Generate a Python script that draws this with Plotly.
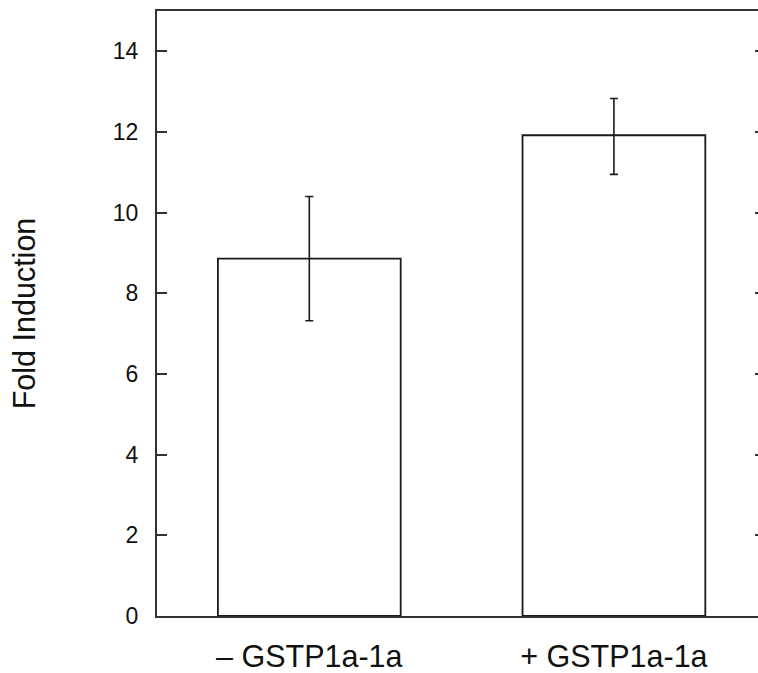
import plotly.graph_objects as go

categories = ["– GSTP1a-1a", "+ GSTP1a-1a"]
fold_induction = [8.86, 11.92]
err_plus = [1.54, 0.91]
err_minus = [1.54, 0.97]
y_ticks = [0, 2, 4, 6, 8, 10, 12, 14]

FONT = "Liberation Sans, Arial, Helvetica, sans-serif"
LINE = "#333333"

fig = go.Figure()
fig.add_trace(go.Bar(
    x=categories, y=fold_induction, width=0.6,
    marker=dict(color="white", line=dict(color="#1a1a1a", width=1.8)),
    error_y=dict(type="data", symmetric=False, array=err_plus, arrayminus=err_minus,
                 color="#1a1a1a", thickness=1.6, width=4),
    showlegend=False, hoverinfo="skip",
))
# invisible trace to carry right-side mirror ticks
fig.add_trace(go.Scatter(x=categories, y=fold_induction, yaxis="y2",
                         mode="markers", marker=dict(opacity=0), showlegend=False,
                         hoverinfo="skip"))

fig.update_layout(
    width=758, height=673,
    margin=dict(l=157, r=0, t=11, b=54),
    paper_bgcolor="white", plot_bgcolor="white",
    font=dict(family=FONT, color="#111111"),
    xaxis=dict(
        type="category", range=[-0.5, 1.473],
        showline=True, linecolor=LINE, linewidth=2, mirror=True,
        ticks="", showgrid=False, zeroline=False,
        tickfont=dict(size=30.5, family=FONT, color="#111111"),
        ticklabelstandoff=12,
    ),
    yaxis=dict(
        range=[0, 15], tickvals=y_ticks,
        showline=True, linecolor=LINE, linewidth=2, mirror=False,
        ticks="inside", ticklen=10, tickwidth=2, tickcolor=LINE,
        showgrid=False, zeroline=False,
        tickfont=dict(size=23, family=FONT, color="#111111"),
        ticklabelstandoff=12,
        title=dict(text="Fold Induction", font=dict(size=30.5, family=FONT, color="#111111"),
                   standoff=68),
    ),
    yaxis2=dict(
        overlaying="y", side="right", range=[0, 15], tickvals=y_ticks,
        showline=False, ticks="inside", ticklen=3, tickwidth=2, tickcolor=LINE,
        showticklabels=False, showgrid=False, zeroline=False,
    ),
)

fig.write_html("out.html")
